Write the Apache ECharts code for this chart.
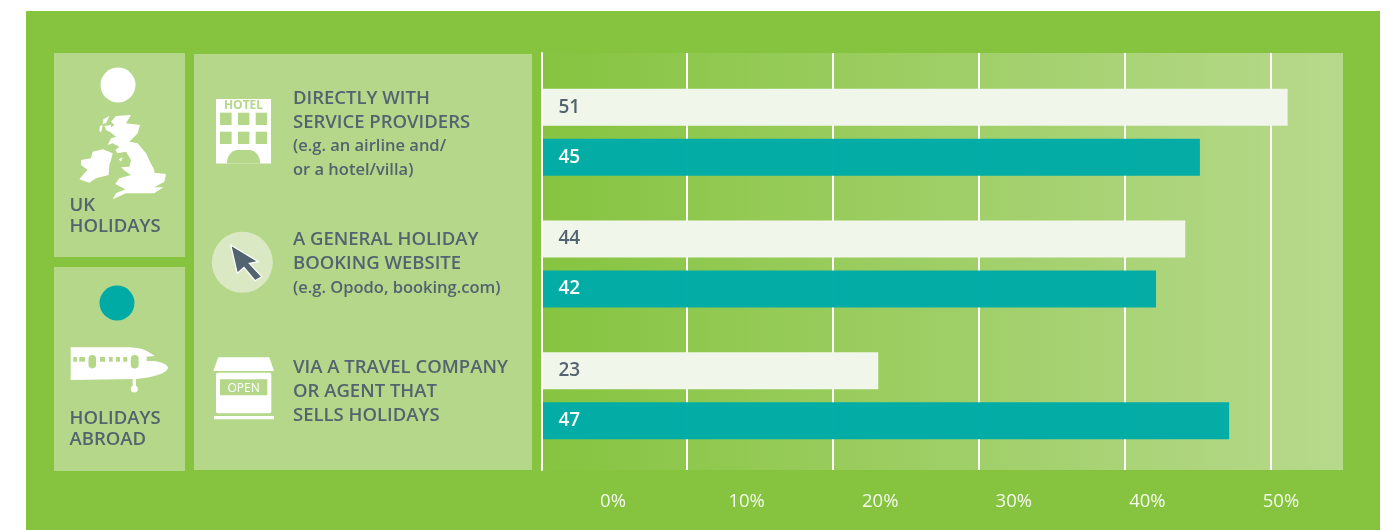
<!DOCTYPE html>
<html>
<head>
<meta charset="utf-8">
<style>
html,body{margin:0;padding:0;background:#fff}
#chart{width:1394px;height:530px}
</style>
<script src="https://cdn.jsdelivr.net/npm/echarts@6/dist/echarts.min.js"></script>
</head>
<body>
<div id="chart"></div>
<script>
// Booking channels, top to bottom
const categories = [
  'DIRECTLY WITH\nSERVICE PROVIDERS',
  'A GENERAL HOLIDAY\nBOOKING WEBSITE',
  'VIA A TRAVEL COMPANY\nOR AGENT THAT\nSELLS HOLIDAYS'
];
const categoryNotes = [
  '(e.g. an airline and/\nor a hotel/villa)',
  '(e.g. Opodo, booking.com)',
  ''
];
const ukHolidays = [51, 44, 23];
const holidaysAbroad = [45, 42, 47];
const percentTicks = [0, 10, 20, 30, 40, 50];

const PANEL = '#B5D789', INK = '#53636F', TEAL = '#00ABA6', FONT = '"Open Sans", sans-serif';

const rect = (x, y, width, height, fill) =>
  ({ type: 'rect', shape: { x, y, width, height }, style: { fill } });
const pill = (x, y, width, height, r, fill) =>
  ({ type: 'rect', shape: { x, y, width, height, r }, style: { fill } });
const poly = (points, fill, extra) =>
  ({ type: 'polygon', shape: { points }, style: Object.assign({ fill }, extra) });
const circle = (cx, cy, r, fill) =>
  ({ type: 'circle', shape: { cx, cy, r }, style: { fill } });
const caption = (x, y, text, size, fill, weight, lineHeight, align) => ({
  type: 'text', x, y,
  style: { text, fill, font: `${weight} ${size}px ${FONT}`, lineHeight, align: align || 'left', verticalAlign: 'middle' }
});

// Map outlines are traced on a 3x grid anchored at the icon's corner
const mapShape = pts => pts.map(([x, y]) => [x / 3 + 76, y / 3 + 110]);
const britain = mapShape([[120,18],[165,15],[150,40],[192,45],[185,70],[160,95],[185,100],[210,130],[222,155],[235,180],[235,188],[270,192],[265,215],[235,232],[262,232],[235,250],[170,250],[150,250],[110,268],[120,250],[148,238],[118,222],[130,205],[165,195],[150,185],[135,172],[160,170],[165,150],[150,125],[125,130],[118,120],[130,110],[110,100],[95,105],[105,85],[120,80],[95,60],[115,45],[105,35]]);
const ireland = mapShape([[50,125],[80,118],[110,130],[105,150],[100,165],[98,195],[60,205],[40,218],[10,208],[25,190],[35,180],[15,165],[15,150],[45,145]]);
const islands = [
  [[82,28],[100,18],[90,40],[80,42]],
  [[72,48],[80,45],[75,68],[70,62]],
  [[85,48],[105,45],[105,65],[92,62]],
  [[128,148],[140,142],[135,155]]
].map(mapShape);
const arch = [[226.7,163.5],[227.6,158.5],[229.5,154.5],[232.5,151.5],[236.5,150],[250.5,150],[254.5,151.5],[257.5,154.5],[259.5,158.5],[260.3,163.5]];
const arrow = [[230.7,245],[258.3,261.7],[249.3,263.3],[261.7,276.7],[255,280.7],[244,267.3],[237.3,273.3]];
const roof = [[218.3,357.3],[269.3,357.3],[274,371],[213.3,371]];
const fuselage = [[70.7,347.3],[130,347.3],[137,347.9],[142,349],[146.7,351],[155,356],[146.7,356.7],[146.7,361],[155,361],[162,362.8],[166,364.8],[168.3,367.7],[166,371],[162,373.6],[156,375.5],[148,377.6],[136.7,379],[70.7,380]];

const decoration = [
  // Page frame and side panels
  rect(26, 11, 1354, 519, '#86C440'),
  rect(54, 53, 131, 204, PANEL),
  rect(54, 267, 131, 204, PANEL),
  rect(194, 54, 338, 416, PANEL),
  // Key: UK holidays
  circle(118, 85, 17.5, '#FFFFFF'),
  poly(britain, '#FFFFFF'), poly(ireland, '#FFFFFF'),
  ...islands.map(p => poly(p, '#FFFFFF')),
  caption(69.5, 216, 'UK\nHOLIDAYS', 18.5, INK, 600, 21.5),
  // Key: holidays abroad
  circle(117, 303, 17.5, TEAL),
  poly(fuselage, '#FFFFFF'),
  rect(73.3, 357, 3.7, 4.7, PANEL), rect(79.3, 357, 5.7, 4.7, PANEL),
  rect(100, 357, 5, 4.7, PANEL), rect(109, 357, 3.7, 4.7, PANEL),
  rect(116, 357, 4, 4.7, PANEL), rect(123.3, 357, 4, 4.7, PANEL),
  pill(88.5, 355, 7.6, 13.4, 3.8, PANEL),
  pill(130.8, 355, 7.8, 13.4, 3.9, PANEL),
  rect(132.7, 379, 3.3, 8, '#FFFFFF'),
  circle(134.3, 389, 3.5, '#FFFFFF'),
  caption(69.5, 429.5, 'HOLIDAYS\nABROAD', 18.5, INK, 600, 20.7),
  // Hotel icon
  rect(216, 99, 55, 64.5, '#FFFFFF'),
  caption(243.5, 106, 'HOTEL', 12, PANEL, 700, 12, 'center'),
  rect(220, 112.7, 11.6, 12.3, PANEL), rect(238, 112.7, 11.4, 12.3, PANEL), rect(255.7, 112.7, 11.4, 12.3, PANEL),
  rect(220, 131.7, 11.6, 12.3, PANEL), rect(238, 131.7, 11.4, 12.3, PANEL), rect(255.7, 131.7, 11.4, 12.3, PANEL),
  poly(arch, PANEL),
  // Cursor icon
  circle(242.3, 262.3, 30.5, '#DAE9C3'),
  poly(arrow, INK, { stroke: '#FFFFFF', lineWidth: 1.2 }),
  // Shop icon
  poly(roof, '#FFFFFF'),
  pill(216, 372.7, 55.3, 40.6, 2, '#FFFFFF'),
  rect(220, 379.3, 47.3, 16, PANEL),
  caption(243.6, 388.5, 'OPEN', 12, '#FFFFFF', 400, 14, 'center'),
  rect(214, 416, 60, 3.3, '#FFFFFF')
];
decoration.forEach(d => { d.silent = true; d.z = -1; });

// Spacer lines that nudge each category block within its band
const spacerBefore = [4, 0, 0];
const spacerAfter = [0, 0, 8];

const richLines = (text, token) => text ? text.split('\n').map(t => `{${token}|${t}}`) : [];
const categoryLabel = (value, index) => {
  const lines = [...richLines(value, 'h'), ...richLines(categoryNotes[index], 's')];
  if (spacerBefore[index]) lines.unshift(`{g${spacerBefore[index]}|}`);
  if (spacerAfter[index]) lines.push(`{g${spacerAfter[index]}|}`);
  return lines.join('\n');
};

// Gridline field runs at 14.59 px per point, bars at 14.62 px per point
const gridFieldMax = 802 / 14.59;
const barFieldMax = 801 / 14.62;

const chart = echarts.init(document.getElementById('chart'), null, { renderer: 'canvas' });
chart.setOption({
  animation: false,
  backgroundColor: '#FFFFFF',
  graphic: decoration,
  grid: [
    // Gradient field with gridlines
    { left: 541, top: 53, width: 802, height: 417, show: true, borderWidth: 0,
      backgroundColor: new echarts.graphic.LinearGradient(0, 0, 1, 0, [
        { offset: 0, color: '#86C440' }, { offset: 1, color: '#B7D98C' }
      ]) },
    // Bars
    { left: 542, top: 66.5, width: 801, height: 395 },
    // Percent labels
    { left: 613, top: 53, width: 668, height: 417 }
  ],
  xAxis: [
    { gridIndex: 0, type: 'value', min: 0, max: gridFieldMax, interval: 10,
      axisLine: { show: false }, axisTick: { show: false }, axisLabel: { show: false },
      splitLine: { show: true, showMinLine: false, showMaxLine: false, lineStyle: { color: '#FFFFFF', width: 2 } } },
    { gridIndex: 1, type: 'value', min: 0, max: barFieldMax, show: false },
    { gridIndex: 2, type: 'value', min: 0, max: 50, interval: 10,
      axisLine: { show: false }, axisTick: { show: false }, splitLine: { show: false },
      axisLabel: {
        margin: 22, color: '#F4F9EC', fontFamily: FONT, fontSize: 18.5, fontWeight: 400,
        formatter: v => percentTicks.includes(v) ? v + '%' : ''
      } }
  ],
  yAxis: [
    { gridIndex: 0, type: 'value', offset: -1, z: 6,
      axisTick: { show: false }, axisLabel: { show: false }, splitLine: { show: false },
      axisLine: { show: true, lineStyle: { color: '#FFFFFF', width: 2 } } },
    { gridIndex: 1, type: 'category', inverse: true, data: categories,
      axisTick: { show: false }, splitLine: { show: false }, axisLine: { show: false },
      axisLabel: {
        align: 'left', margin: 249, color: INK, formatter: categoryLabel,
        rich: {
          h: { fontFamily: FONT, fontSize: 18.5, fontWeight: 600, lineHeight: 24, color: INK, align: 'left' },
          s: { fontFamily: FONT, fontSize: 16.5, fontWeight: 600, lineHeight: 24, color: INK, align: 'left' },
          g4: { fontSize: 1, lineHeight: 4 },
          g8: { fontSize: 1, lineHeight: 8 }
        }
      } },
    { gridIndex: 2, show: false }
  ],
  series: [
    { name: 'UK holidays', type: 'bar', xAxisIndex: 1, yAxisIndex: 1, data: ukHolidays,
      barWidth: 37, barGap: '35%', itemStyle: { color: '#F1F6EA' },
      label: { show: true, position: 'insideLeft', distance: 16.5, color: INK, fontFamily: FONT, fontSize: 19, fontWeight: 600 } },
    { name: 'Holidays abroad', type: 'bar', xAxisIndex: 1, yAxisIndex: 1, data: holidaysAbroad,
      barWidth: 37, itemStyle: { color: TEAL, opacity: 0.98 },
      label: { show: true, position: 'insideLeft', distance: 16.5, color: '#FFFFFF', fontFamily: FONT, fontSize: 19, fontWeight: 600 } }
  ]
});
</script>
</body>
</html>
